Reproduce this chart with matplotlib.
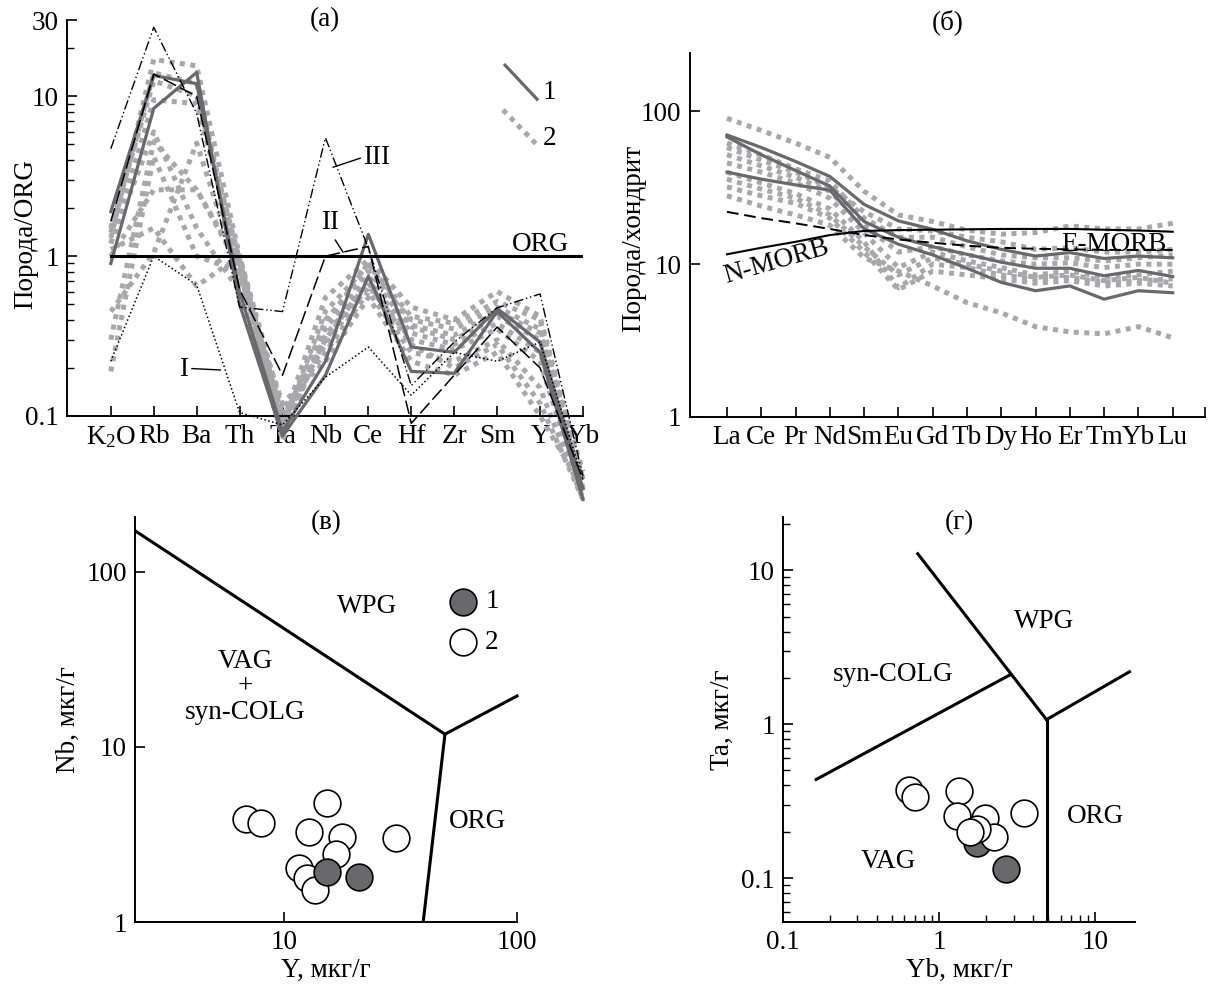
import numpy as np
import matplotlib.pyplot as plt
from matplotlib.ticker import FixedLocator, NullFormatter

plt.rcParams['font.family'] = ['Liberation Serif', 'DejaVu Serif']
plt.rcParams['mathtext.fontset'] = 'custom'
plt.rcParams['mathtext.rm'] = 'Liberation Serif'
plt.rcParams['mathtext.it'] = 'Liberation Serif:italic'
plt.rcParams['font.size'] = 19.5
plt.rcParams['axes.linewidth'] = 1.4

DARK = '#69696c'
LIGHT = '#a8a8aa'

# --- (а) spider diagram, rock / ORG ---
spider_elements = ['K$_2$O', 'Rb', 'Ba', 'Th', 'Ta', 'Nb', 'Ce', 'Hf', 'Zr', 'Sm', 'Y', 'Yb']
spider_group1 = [
    [1.9, 13.5, 12.0, 0.60, 0.080, 0.22, 1.37, 0.27, 0.25, 0.47, 0.29, 0.035],
    [0.9, 8.4, 14.1, 0.50, 0.075, 0.18, 0.75, 0.19, 0.185, 0.45, 0.25, 0.030],
]
spider_group2 = [
    [1.3, 17.0, 15.5, 1.00, 0.090, 0.55, 0.95, 0.48, 0.40, 0.60, 0.42, 0.040],
    [1.5, 12.5, 10.0, 0.95, 0.085, 0.45, 0.88, 0.42, 0.38, 0.52, 0.40, 0.035],
    [1.2, 9.5, 9.0, 0.90, 0.080, 0.40, 0.80, 0.40, 0.35, 0.48, 0.35, 0.040],
    [0.3, 5.2, 2.6, 0.85, 0.070, 0.35, 0.75, 0.36, 0.30, 0.42, 0.30, 0.035],
    [0.19, 4.2, 1.0, 0.80, 0.090, 0.30, 0.70, 0.33, 0.28, 0.38, 0.25, 0.040],
    [1.0, 2.6, 2.6, 0.90, 0.100, 0.28, 0.65, 0.30, 0.26, 0.35, 0.22, 0.030],
    [1.1, 1.5, 0.65, 1.00, 0.110, 0.25, 0.60, 0.25, 0.22, 0.30, 0.15, 0.030],
    [0.45, 1.05, 5.1, 0.75, 0.120, 0.22, 0.55, 0.22, 0.18, 0.25, 0.10, 0.035],
    [1.4, 14.0, 12.0, 0.80, 0.090, 0.38, 0.90, 0.37, 0.32, 0.45, 0.33, 0.045],
    [1.2, 6.0, 1.5, 0.60, 0.075, 0.32, 0.68, 0.28, 0.20, 0.28, 0.12, 0.030],
]
ref_I = [0.22, 1.0, 0.66, 0.105, 0.088, 0.175, 0.27, 0.135, 0.25, 0.22, 0.29, 0.04]
ref_II = [1.65, 13.8, 10.0, 0.62, 0.18, 1.0, 1.15, 0.09, 0.18, 0.36, 0.20, 0.04]
ref_III = [4.7, 27.0, 7.8, 0.48, 0.45, 5.5, 1.12, 0.155, 0.29, 0.475, 0.58, 0.042]

# --- (б) REE, rock / chondrite ---
ree_elements = ['La', 'Ce', 'Pr', 'Nd', 'Sm', 'Eu', 'Gd', 'Tb', 'Dy', 'Ho', 'Er', 'Tm', 'Yb', 'Lu']
ree_group1 = [
    [70, 58, 47, 37.5, 24.6, 19.2, 16.9, 14.2, 12.5, 11.3, 11.9, 10.9, 11.3, 11.0],
    [68, 52, 41, 32.4, 19.0, 15.0, 13.0, 11.6, 10.3, 9.4, 9.4, 8.4, 9.1, 8.3],
    [40, 36, 33, 30.5, 17.0, 13.5, 11.5, 9.4, 7.6, 6.7, 7.2, 5.9, 6.7, 6.5],
]
ree_group2 = [
    [90, 75, 62, 50, 30, 21, 19, 16.7, 15.7, 16.1, 17.8, 17, 17, 18.5],
    [62, 52, 42, 35, 20, 15, 15, 13, 11.5, 11, 11, 10.5, 11, 11.5],
    [58, 48, 40, 32, 22, 17, 16.5, 15, 14, 12.5, 12.8, 12, 12, 12.5],
    [52, 44, 37, 30, 18, 12, 13, 11.5, 10.5, 10, 10.2, 9.5, 10, 10],
    [46, 40, 34, 27, 16, 9.5, 12, 10.5, 9.5, 8.5, 9, 8.2, 8.5, 9],
    [40, 34, 29, 23, 14, 7.0, 10, 9.5, 8.5, 8.0, 8.2, 7.6, 7.8, 8],
    [36, 31, 27, 21, 13, 8.5, 11, 10, 9, 8.2, 8.5, 7.8, 8.2, 7.5],
    [32, 28, 25, 20, 12, 6.8, 9, 8.5, 8, 7.5, 7.8, 7.2, 7.5, 7.2],
    [28, 24, 21, 18, 11, 9, 7.2, 5.6, 4.8, 3.9, 3.6, 3.5, 3.9, 3.3],
]
n_morb = [11.6, 12.8, 14.0, 15.5, 16.5, 16.7, 16.8, 16.9, 17.0, 17.0, 17.0, 16.8, 16.6, 16.3]
e_morb = [22.0, 20.0, 18.5, 17.0, 15.5, 14.5, 13.8, 13.2, 12.8, 12.6, 12.5, 12.4, 12.4, 12.4]

# --- (в) Nb vs Y ---
y_grp1 = [15.2, 21.0]
nb_grp1 = [1.94, 1.81]
y_grp2 = [6.85, 7.9, 15.3, 12.8, 17.6, 30.1, 16.7, 11.6, 12.5, 13.5]
nb_grp2 = [3.88, 3.66, 4.75, 3.27, 3.05, 3.03, 2.45, 2.04, 1.78, 1.53]
nbY_wpg_x, nbY_wpg_y = [2.28, 49], [171, 11.8]
nbY_org_x, nbY_org_y = [49, 100], [11.8, 19.5]
nbY_vag_x, nbY_vag_y = [49, 39.5], [11.8, 1.0]

# --- (г) Ta vs Yb ---
yb_grp1 = [1.75, 2.69]
ta_grp1 = [0.168, 0.114]
yb_grp2 = [0.64, 0.697, 1.35, 1.30, 1.97, 3.48, 2.26, 1.75, 1.57]
ta_grp2 = [0.371, 0.336, 0.366, 0.252, 0.244, 0.263, 0.184, 0.207, 0.200]
taYb_col_x, taYb_col_y = [0.163, 2.87], [0.437, 2.1]
taYb_wpg_x, taYb_wpg_y = [0.73, 4.88], [12.8, 1.07]
taYb_org_x, taYb_org_y = [4.88, 16.6], [1.07, 2.19]
taYb_vag_x, taYb_vag_y = [4.88, 4.88], [1.07, 0.0518]


def style_axes(ax):
    ax.spines['top'].set_visible(False)
    ax.spines['right'].set_visible(False)
    ax.tick_params(which='major', direction='in', length=7, width=1.2, pad=6)
    ax.tick_params(which='minor', direction='in', length=5, width=1.0)


fig = plt.figure(figsize=(12.1, 9.86), dpi=100)

# (а)
ax = fig.add_axes([0.0554, 0.5781, 0.4264, 0.4016])
xa = np.arange(len(spider_elements))
for vals in spider_group2:
    ax.plot(xa, vals, color=LIGHT, lw=3.6, ls=(0, (1, 1.1)), clip_on=False, zorder=2)
for vals in spider_group1:
    ax.plot(xa, vals, color=DARK, lw=2.3, clip_on=False, zorder=3)
ax.plot(xa, ref_I, color='k', lw=1.1, ls=(0, (1, 1.6)), clip_on=False, zorder=4)
ax.plot(xa, ref_II, color='k', lw=1.1, ls=(0, (9, 3)), clip_on=False, zorder=4)
ax.plot(xa, ref_III, color='k', lw=1.0, ls=(0, (7, 2, 1, 2, 1, 2)), clip_on=False, zorder=4)
ax.plot([xa[0], xa[-1]], [1, 1], color='k', lw=2.2, zorder=4)
ax.set_yscale('log')
ax.set_ylim(0.1, 30)
ax.set_xlim(-1.02, 11)
ax.set_xticks(xa)
ax.set_xticklabels(spider_elements)
ax.yaxis.set_major_locator(FixedLocator([0.1, 1, 10, 30]))
ax.set_yticklabels(['0.1', '1', '10', '30'])
ax.yaxis.set_minor_locator(FixedLocator([0.2, 0.3, 0.4, 0.5, 0.6, 0.7, 0.8, 0.9,
                                         2, 3, 4, 5, 6, 7, 8, 9, 20]))
ax.yaxis.set_minor_formatter(NullFormatter())
style_axes(ax)
ax.set_ylabel('Порода/ORG')
ax.yaxis.set_label_coords(-0.056, 0.46)
ax.text(0.5, 1.0, '(а)', transform=ax.transAxes, ha='center', va='center')
ax.text(10.0, 1.18, 'ORG', ha='center', va='center')
ax.text(6.2, 4.15, 'III', ha='center', va='center')
ax.plot([5.18, 5.81], [3.6, 4.1], color='k', lw=1.0)
ax.text(5.11, 1.63, 'II', ha='center', va='center')
ax.plot([5.23, 5.41], [1.26, 1.06], color='k', lw=1.0)
ax.text(1.69, 0.194, 'I', ha='center', va='center')
ax.plot([1.89, 2.55], [0.198, 0.194], color='k', lw=1.0)
ax.plot([0.849, 0.911], [0.886, 0.80], transform=ax.transAxes, color=DARK, lw=2.3)
ax.plot([0.845, 0.913], [0.773, 0.682], transform=ax.transAxes, color=LIGHT, lw=3.6,
        ls=(0, (1, 1.1)))
ax.text(0.935, 0.818, '1', transform=ax.transAxes, ha='center', va='center')
ax.text(0.935, 0.702, '2', transform=ax.transAxes, ha='center', va='center')

# (б)
ax = fig.add_axes([0.5702, 0.5771, 0.4256, 0.3692])
xb = np.arange(len(ree_elements))
for vals in ree_group2:
    ax.plot(xb, vals, color=LIGHT, lw=3.6, ls=(0, (1, 1.1)), zorder=2)
for vals in ree_group1:
    ax.plot(xb, vals, color=DARK, lw=2.3, zorder=3)
ax.plot(xb, n_morb, color='k', lw=1.5, zorder=4)
ax.plot(xb, e_morb, color='k', lw=1.4, ls=(0, (6, 3)), zorder=4)
ax.set_yscale('log')
ax.set_ylim(1, 241)
ax.set_xlim(-1.08, 13.94)
ax.set_xticks(list(xb) + [13.94])
ax.set_xticklabels(ree_elements + [''])
ax.yaxis.set_major_locator(FixedLocator([1, 10, 100]))
ax.set_yticklabels(['1', '10', '100'])
ax.yaxis.set_minor_locator(FixedLocator([]))
style_axes(ax)
ax.set_ylabel('Порода/хондрит')
ax.yaxis.set_label_coords(-0.085, 0.49)
ax.text(0.5, 1.085, '(б)', transform=ax.transAxes, ha='center', va='center')
ax.text(1.46, 10.4, 'N-MORB', ha='center', va='center', rotation=16)
ax.text(11.3, 13.5, 'E-MORB', ha='center', va='center')

# (в)
ax = fig.add_axes([0.1116, 0.0649, 0.3157, 0.4108])
ax.set_xscale('log')
ax.set_yscale('log')
ax.plot(nbY_wpg_x, nbY_wpg_y, color='k', lw=2.2)
ax.plot(nbY_org_x, nbY_org_y, color='k', lw=2.2, clip_on=False)
ax.plot(nbY_vag_x, nbY_vag_y, color='k', lw=2.2)
ax.scatter(y_grp2, nb_grp2, s=370, facecolor='white', edgecolor='k', lw=1.2, zorder=3)
ax.scatter(y_grp1, nb_grp1, s=370, facecolor=DARK, edgecolor='k', lw=1.2, zorder=4)
ax.scatter([58.5], [67.4], s=370, facecolor=DARK, edgecolor='k', lw=1.2, zorder=4)
ax.scatter([58.5], [39.4], s=370, facecolor='white', edgecolor='k', lw=1.2, zorder=4)
ax.text(78, 67.4, '1', ha='center', va='center')
ax.text(78, 39.4, '2', ha='center', va='center')
ax.set_xlim(2.28, 100)
ax.set_ylim(1, 205)
ax.xaxis.set_major_locator(FixedLocator([10, 100]))
ax.set_xticklabels(['10', '100'])
ax.xaxis.set_minor_locator(FixedLocator([]))
ax.yaxis.set_major_locator(FixedLocator([1, 10, 100]))
ax.set_yticklabels(['1', '10', '100'])
ax.yaxis.set_minor_locator(FixedLocator([]))
style_axes(ax)
ax.set_xlabel('Y, мкг/г', labelpad=2)
ax.set_ylabel('Nb, мкг/г')
ax.text(0.5, 0.985, '(в)', transform=ax.transAxes, ha='center', va='center')
ax.text(22.6, 63, 'WPG', ha='center', va='center')
ax.text(6.8, 30.7, 'VAG', ha='center', va='center')
ax.text(6.8, 22, '+', ha='center', va='center')
ax.text(6.8, 15.6, 'syn-COLG', ha='center', va='center')
ax.text(67.8, 3.77, 'ORG', ha='center', va='center')

# (г)
ax = fig.add_axes([0.6471, 0.0649, 0.2909, 0.4108])
ax.set_xscale('log')
ax.set_yscale('log')
ax.plot(taYb_col_x, taYb_col_y, color='k', lw=2.2)
ax.plot(taYb_wpg_x, taYb_wpg_y, color='k', lw=2.2)
ax.plot(taYb_org_x, taYb_org_y, color='k', lw=2.2)
ax.plot(taYb_vag_x, taYb_vag_y, color='k', lw=2.2)
ax.scatter(yb_grp1, ta_grp1, s=370, facecolor=DARK, edgecolor='k', lw=1.2, zorder=3)
ax.scatter(yb_grp2, ta_grp2, s=370, facecolor='white', edgecolor='k', lw=1.2, zorder=4)
ax.set_xlim(0.1, 18)
ax.set_ylim(0.0518, 22.2)
ax.xaxis.set_major_locator(FixedLocator([0.1, 1, 10]))
ax.set_xticklabels(['0.1', '1', '10'])
ax.xaxis.set_minor_locator(FixedLocator([0.2, 0.3, 0.4, 0.5, 0.6, 0.7, 0.8, 0.9,
                                         2, 3, 4, 5, 6, 7, 8, 9]))
ax.xaxis.set_minor_formatter(NullFormatter())
ax.yaxis.set_major_locator(FixedLocator([0.1, 1, 10]))
ax.set_yticklabels(['0.1', '1', '10'])
ax.yaxis.set_minor_locator(FixedLocator([0.06, 0.07, 0.08, 0.09, 0.2, 0.3, 0.4, 0.5, 0.6,
                                         0.7, 0.8, 0.9, 2, 3, 4, 5, 6, 7, 8, 9, 20]))
ax.yaxis.set_minor_formatter(NullFormatter())
style_axes(ax)
ax.set_xlabel('Yb, мкг/г', labelpad=2)
ax.set_ylabel('Ta, мкг/г')
ax.text(0.5, 0.985, '(г)', transform=ax.transAxes, ha='center', va='center')
ax.text(4.7, 4.64, 'WPG', ha='center', va='center')
ax.text(0.507, 2.1, 'syn-COLG', ha='center', va='center')
ax.text(0.475, 0.128, 'VAG', ha='center', va='center')
ax.text(10.0, 0.25, 'ORG', ha='center', va='center')

fig.savefig('out.png', dpi=100)
